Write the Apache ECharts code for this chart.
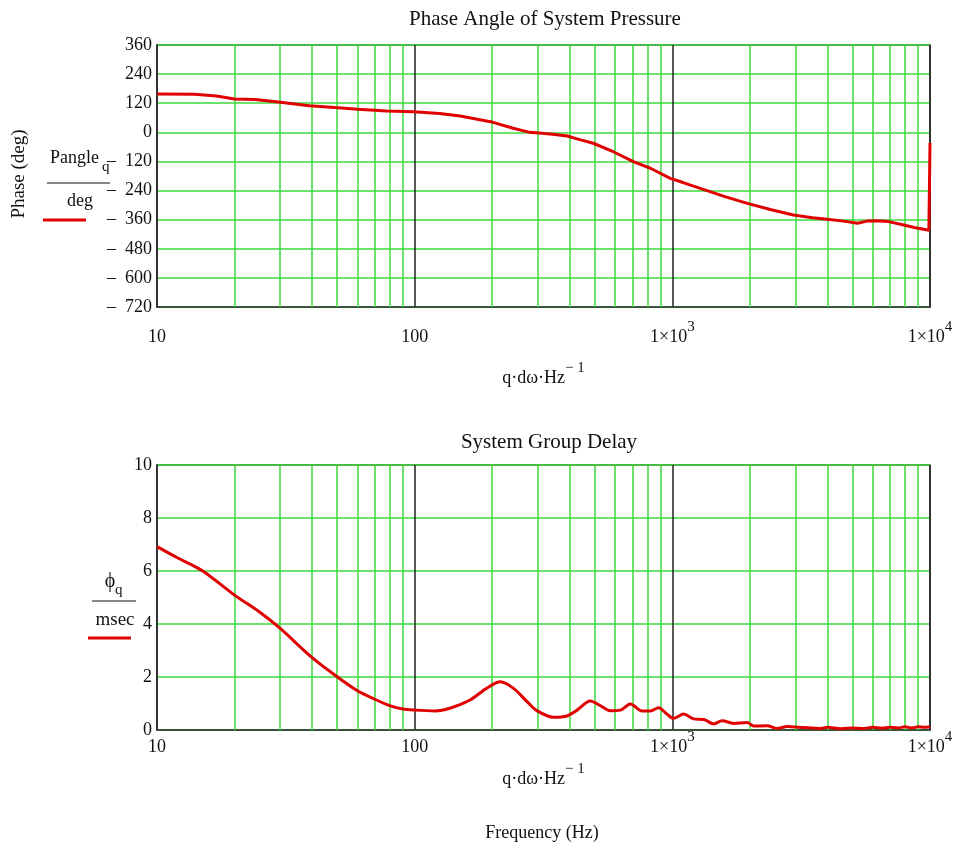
<!DOCTYPE html>
<html>
<head>
<meta charset="utf-8">
<script src="https://cdn.jsdelivr.net/npm/echarts@6/dist/echarts.min.js"></script>
<style>html,body{margin:0;padding:0;background:#fff;}#c{width:962px;height:855px;}</style>
</head>
<body>
<div id="c"></div>
<script>
// ---- data ----
var phaseFreq = [10, 14, 17, 20, 24, 29, 39, 49, 60, 78, 99, 125, 150, 197, 241, 280, 336, 391, 430, 493, 590, 706, 822, 982, 1100, 1284, 1600, 1955, 2400, 2950, 3500, 3998, 4700, 5228, 5700, 6254, 6900, 7680, 8700, 9900, 10000];
var phaseDeg  = [158, 157, 150, 137, 135, 126, 110, 102, 95, 88, 85, 78, 67, 44, 17, 0, -7, -15, -28, -45, -80, -121, -148, -190, -207, -231, -265, -293, -318, -341, -352, -358, -367, -375, -366, -364, -368, -379, -392, -404, -44];

var delayFreq = [10, 12, 15, 20, 25, 30, 40, 50, 60, 70, 80, 90, 100, 120, 137, 164, 190, 215, 242, 273, 298, 346, 390, 427, 480, 533, 574, 628, 687, 763, 822, 885, 953, 1011, 1106, 1210, 1324, 1447, 1559, 1730, 1950, 2070, 2333, 2552, 2792, 3240, 3758, 4000, 4500, 5000, 5500, 6000, 6500, 7000, 7500, 8000, 8500, 9000, 9500, 10000];
var delayMs   = [6.92, 6.5, 6.01, 5.09, 4.45, 3.84, 2.73, 2.01, 1.48, 1.16, 0.92, 0.79, 0.75, 0.72, 0.82, 1.13, 1.57, 1.82, 1.57, 1.07, 0.73, 0.48, 0.53, 0.75, 1.09, 0.88, 0.73, 0.75, 0.98, 0.72, 0.72, 0.84, 0.6, 0.44, 0.6, 0.42, 0.40, 0.23, 0.35, 0.25, 0.28, 0.15, 0.16, 0.06, 0.13, 0.09, 0.06, 0.1, 0.05, 0.08, 0.06, 0.1, 0.07, 0.1, 0.08, 0.12, 0.08, 0.12, 0.1, 0.12];

var minorGridFreqs = [20, 30, 40, 50, 60, 70, 80, 90, 200, 300, 400, 500, 600, 700, 800, 900, 2000, 3000, 4000, 5000, 6000, 7000, 8000, 9000];
var xTickText = {10: '{b|10}', 100: '{b|100}', 1000: '{b|1×10}{s|3}', 10000: '{b|1×10}{s|4}'};
var xAxisName = '{b|q·dω·Hz}{s|− 1}';
// -----------------------------------------

var FONT = 'Liberation Serif';
var GREEN = '#3cd83c';
var RED = '#e00000';
var INK = '#111';

function pairs(xs, ys) { return xs.map(function (x, i) { return [x, ys[i]]; }); }
function yFmt(v) { return v < 0 ? '\u2013  ' + (-v) : String(v); }

var richSup = {
  b: {fontFamily: FONT, fontSize: 18, color: INK, lineHeight: 26, verticalAlign: 'bottom'},
  s: {fontFamily: FONT, fontSize: 15, color: INK, lineHeight: 26, verticalAlign: 'top'}
};

var chart = echarts.init(document.getElementById('c'));

function xAxisCfg(gridIndex, margin, nameGap) {
  return {
    type: 'log', logBase: 10, min: 10, max: 10000, gridIndex: gridIndex,
    axisLine: {show: true, onZero: false, lineStyle: {color: '#333', width: 1.5}},
    axisTick: {show: false},
    splitLine: {show: true, lineStyle: {color: '#222', width: 1.5}},
    axisLabel: {
      margin: margin, fontFamily: FONT, fontSize: 18, color: INK,
      formatter: function (v) { return xTickText[Math.round(v)] || ''; },
      rich: richSup
    },
    name: xAxisName, nameLocation: 'middle', nameGap: nameGap,
    nameTextStyle: {fontFamily: FONT, fontSize: 18, color: INK, rich: richSup}
  };
}
function yAxisCfg(gridIndex, min, max, interval) {
  return {
    type: 'value', min: min, max: max, interval: interval, gridIndex: gridIndex,
    axisLine: {show: true, lineStyle: {color: '#333', width: 1.5}},
    axisTick: {show: false},
    splitLine: {show: true, lineStyle: {color: GREEN, width: 1.5}},
    axisLabel: {margin: 5, fontFamily: FONT, fontSize: 18, color: INK, formatter: yFmt}
  };
}
function gridLinesSeries(xi, yi, data) {
  return {
    type: 'line', xAxisIndex: xi, yAxisIndex: yi, data: data, z: 1,
    showSymbol: false, silent: true, lineStyle: {opacity: 0}, animation: false,
    markLine: {
      silent: true, symbol: ['none', 'none'], animation: false,
      label: {show: false},
      lineStyle: {color: GREEN, width: 1.5, type: 'solid'},
      data: minorGridFreqs.map(function (f) { return {xAxis: f}; })
    }
  };
}

var phaseData = pairs(phaseFreq, phaseDeg);
var delayData = pairs(delayFreq, delayMs);

chart.setOption({
  animation: false,
  backgroundColor: '#fff',
  title: [
    {text: 'Phase Angle of System Pressure', left: 540, textAlign: 'center', top: 4,
      textStyle: {fontFamily: FONT, fontSize: 21, fontWeight: 'normal', color: INK}},
    {text: 'System Group Delay', left: 544, textAlign: 'center', top: 427,
      textStyle: {fontFamily: FONT, fontSize: 21, fontWeight: 'normal', color: INK}}
  ],
  grid: [
    {left: 157, top: 45, width: 773, height: 262, show: true, borderColor: '#333', borderWidth: 1.5},
    {left: 157, top: 465, width: 773, height: 265, show: true, borderColor: '#333', borderWidth: 1.5}
  ],
  xAxis: [xAxisCfg(0, 13, 54), xAxisCfg(1, 0, 32)],
  yAxis: [yAxisCfg(0, -720, 360, 120), yAxisCfg(1, 0, 10, 2)],
  series: [
    gridLinesSeries(0, 0, phaseData),
    gridLinesSeries(1, 1, delayData),
    {type: 'line', xAxisIndex: 0, yAxisIndex: 0, data: phaseData, z: 5, showSymbol: false,
      lineStyle: {color: RED, width: 3}},
    {type: 'line', xAxisIndex: 1, yAxisIndex: 1, data: delayData, z: 5, showSymbol: false, smooth: 0.3,
      lineStyle: {color: RED, width: 3}}
  ],
  graphic: [
    {type: 'text', x: 19, y: 174, rotation: Math.PI / 2,
      style: {text: 'Phase (deg)', fontFamily: FONT, fontSize: 19, fill: INK, align: 'center', verticalAlign: 'middle'}},
    {type: 'text', x: 50, y: 158, style: {text: 'Pangle', fontFamily: FONT, fontSize: 18, fill: INK, verticalAlign: 'middle'}},
    {type: 'text', x: 102, y: 167, style: {text: 'q', fontFamily: FONT, fontSize: 15, fill: INK, verticalAlign: 'middle'}},
    {type: 'line', shape: {x1: 47, y1: 183, x2: 110, y2: 183}, style: {stroke: INK, lineWidth: 1.2}},
    {type: 'text', x: 80, y: 201, style: {text: 'deg', fontFamily: FONT, fontSize: 18, fill: INK, align: 'center', verticalAlign: 'middle'}},
    {type: 'line', shape: {x1: 43, y1: 220, x2: 86, y2: 220}, style: {stroke: RED, lineWidth: 3}},

    {type: 'text', x: 110, y: 582, style: {text: 'ϕ', fontFamily: FONT, fontSize: 20, fill: INK, align: 'center', verticalAlign: 'middle'}},
    {type: 'text', x: 115, y: 590, style: {text: 'q', fontFamily: FONT, fontSize: 15, fill: INK, verticalAlign: 'middle'}},
    {type: 'line', shape: {x1: 92, y1: 601, x2: 136, y2: 601}, style: {stroke: INK, lineWidth: 1.2}},
    {type: 'text', x: 115, y: 620, style: {text: 'msec', fontFamily: FONT, fontSize: 19, fill: INK, align: 'center', verticalAlign: 'middle'}},
    {type: 'line', shape: {x1: 88, y1: 638, x2: 131, y2: 638}, style: {stroke: RED, lineWidth: 3}},

    {type: 'text', x: 542, y: 833, style: {text: 'Frequency (Hz)', fontFamily: FONT, fontSize: 18, fill: INK, align: 'center', verticalAlign: 'middle'}}
  ]
});
</script>
</body>
</html>
